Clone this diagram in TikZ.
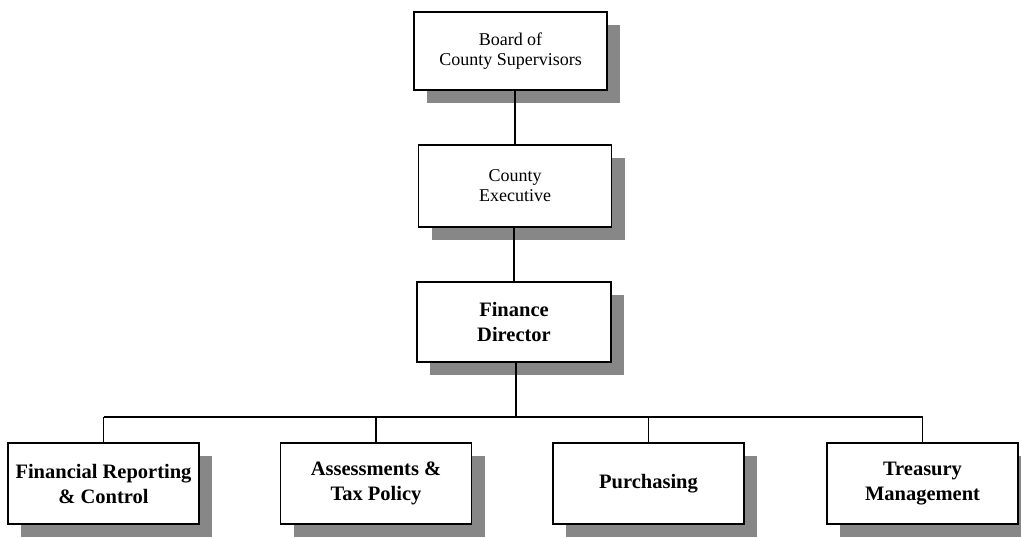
\documentclass[tikz,border=0pt]{standalone}
\usepackage{fontspec}
\setmainfont{Liberation Serif}
\usetikzlibrary{shadows}
\definecolor{shadowgray}{RGB}{135,135,135}
\tikzset{
  orgbox/.style={rectangle, draw, line width=1.8pt, fill=white, inner sep=0pt,
    minimum width=193pt, minimum height=80pt, align=center,
    drop shadow={shadow xshift=13pt, shadow yshift=-13pt, fill=shadowgray, opacity=1}},
  plainbox/.style={orgbox, font=\fontsize{18}{20}\selectfont},
  boldbox/.style={orgbox, minimum width=191pt, minimum height=81pt,
    font=\fontsize{20.5}{25}\selectfont\bfseries},
  link/.style={line width=1.3pt},
}
\begin{document}
\begin{tikzpicture}[x=1pt,y=1pt]
  \useasboundingbox (0,0) rectangle (1021,-538);

  % upper chain of command
  \node[plainbox, minimum height=78pt] (board) at (510.5,-51) {Board of\\County Supervisors};
  \node[plainbox, minimum height=82pt] (exec) at (515,-186) {County\\Executive};
  \node[boldbox, minimum width=194pt, minimum height=80pt] (fin) at (514,-322) {Finance\\Director};

  % divisions
  \node[boldbox] (frc) at (103.5,-483.5) {Financial Reporting\\\& Control};
  \node[boldbox] (atp) at (376,-483.5) {Assessments \&\\Tax Policy};
  \node[boldbox] (pur) at (648.5,-483.5) {Purchasing};
  \node[boldbox] (tm)  at (922.5,-483.5) {Treasury\\Management};

  % connectors
  \coordinate (bar) at (516,-417);
  \draw[link] (exec.north) -- (exec.north |- board.south);
  \draw[link] (fin.north) -- (fin.north |- exec.south);
  \draw[link] (bar |- fin.south) -- (bar);
  \draw[link] (frc.north |- bar) -- (tm.north |- bar);
  \foreach \n in {frc,atp,pur,tm}
    \draw[link] (\n.north |- bar) -- (\n.north);
\end{tikzpicture}
\end{document}
